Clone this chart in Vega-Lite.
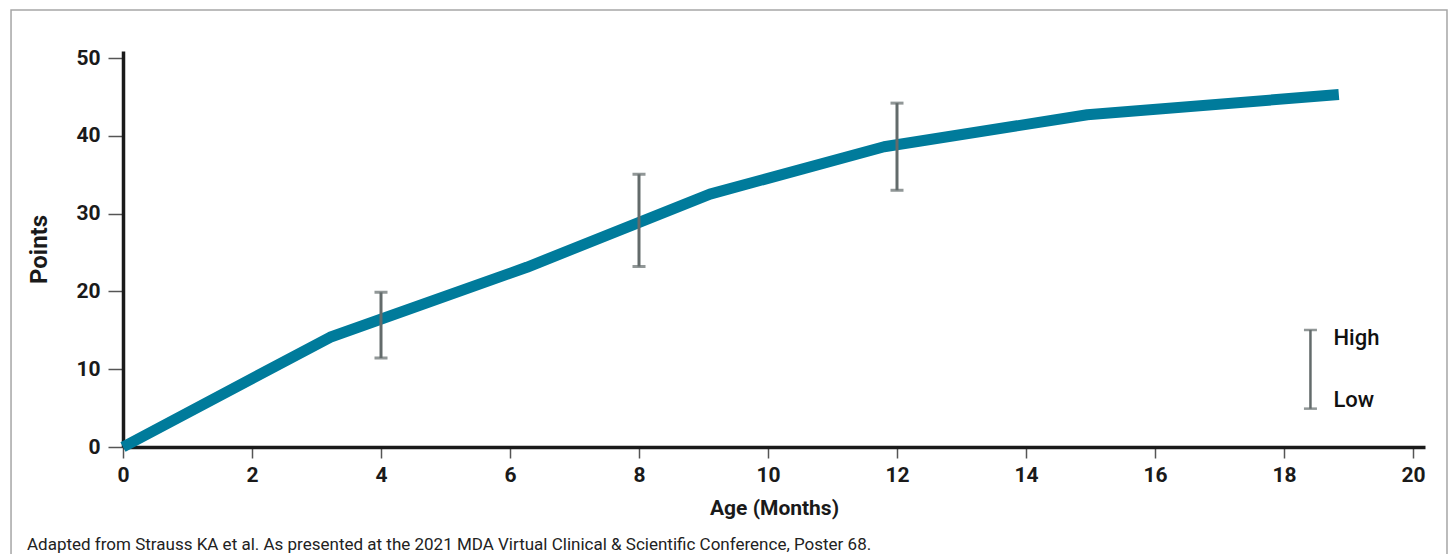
{
  "$schema": "https://vega.github.io/schema/vega-lite/v6.json",
  "autosize": {"type": "none"},
  "padding": {"left": 123, "top": 51, "right": 25, "bottom": 107},
  "width": 1302,
  "height": 396,
  "background": "white",
  "config": {
    "view": {"stroke": null},
    "font": "Roboto",
    "axis": {"grid": false}
  },
  "title": {
    "text": "Adapted from Strauss KA et al. As presented at the 2021 MDA Virtual Clinical & Scientific Conference, Poster 68.",
    "orient": "bottom",
    "anchor": "start",
    "frame": "group",
    "dx": -96,
    "offset": -20,
    "font": "Roboto",
    "fontSize": 17,
    "fontWeight": "normal",
    "color": "#222222"
  },
  "datasets": {
    "frame": [{}],
    "line": [
      {"age": 0, "points": 0},
      {"age": 3.21, "points": 14.1},
      {"age": 6.26, "points": 23.1},
      {"age": 9.1, "points": 32.5},
      {"age": 11.8, "points": 38.6},
      {"age": 14.95, "points": 42.7},
      {"age": 18.85, "points": 45.3}
    ],
    "bars": [
      {"age": 4, "low": 11.44, "high": 19.88},
      {"age": 8, "low": 23.2, "high": 35.05},
      {"age": 12, "low": 33.0, "high": 44.2}
    ],
    "legend": [
      {"age": 18.41, "low": 4.93, "high": 15.04}
    ],
    "legendText": [
      {"age": 18.41, "value": 14.0, "label": "High"},
      {"age": 18.41, "value": 6.0, "label": "Low"}
    ]
  },
  "layer": [
    {
      "data": {"name": "frame"},
      "mark": {"type": "rect", "fill": "transparent", "stroke": "#a6a6a6", "strokeWidth": 1.5, "clip": false},
      "encoding": {
        "x": {"datum": -1.736, "type": "quantitative", "scale": {"domain": [0, 20.186], "nice": false, "zero": false}, "title": "Age (Months)"},
        "x2": {"datum": 20.527},
        "y": {"datum": 56.17, "type": "quantitative", "scale": {"domain": [0, 50.9], "nice": false, "zero": false}, "title": "Points"},
        "y2": {"datum": -14.01}
      }
    },
    {
      "data": {"name": "line"},
      "mark": {"type": "line", "color": "#007B9B", "strokeWidth": 11, "strokeCap": "butt", "strokeJoin": "round"},
      "encoding": {
        "x": {
          "field": "age", "type": "quantitative",
          "scale": {"domain": [0, 20.186], "nice": false, "zero": false},
          "axis": {
            "title": "Age (Months)",
            "values": [0, 2, 4, 6, 8, 10, 12, 14, 16, 18, 20],
            "format": "d",
            "domainColor": "#1a1a1a", "domainWidth": 3.5,
            "tickColor": "#555555", "tickWidth": 1.5, "tickSize": 11,
            "labelFont": "Roboto", "labelFontSize": 21, "labelFontWeight": "bold", "labelColor": "#1a1a1a",
            "labelPadding": 6, "labelFlush": false,
            "titleFont": "Roboto", "titleFontSize": 21, "titleFontWeight": "bold", "titleColor": "#1a1a1a",
            "titlePadding": 12
          }
        },
        "y": {
          "field": "points", "type": "quantitative",
          "scale": {"domain": [0, 50.9], "nice": false, "zero": false},
          "axis": {
            "title": "Points",
            "values": [0, 10, 20, 30, 40, 50],
            "format": "d",
            "domainColor": "#1a1a1a", "domainWidth": 3.5,
            "tickColor": "#555555", "tickWidth": 1.5, "tickSize": 15,
            "labelFont": "Roboto", "labelFontSize": 21, "labelFontWeight": "bold", "labelColor": "#1a1a1a",
            "labelPadding": 8, "labelFlush": false,
            "titleFont": "Roboto", "titleFontSize": 24, "titleFontWeight": "bold", "titleColor": "#1a1a1a",
            "titlePadding": 24
          }
        }
      }
    },
    {
      "data": {"name": "bars"},
      "mark": {"type": "errorbar", "ticks": {"size": 13, "thickness": 3, "color": "#636b6b"}, "rule": {"strokeWidth": 3, "color": "#636b6b"}},
      "encoding": {
        "x": {"field": "age", "type": "quantitative", "title": "Age (Months)"},
        "y": {"field": "low", "type": "quantitative", "title": "Points"},
        "y2": {"field": "high"}
      }
    },
    {
      "data": {"name": "legend"},
      "mark": {"type": "errorbar", "ticks": {"size": 13, "thickness": 2.5, "color": "#636b6b"}, "rule": {"strokeWidth": 2.5, "color": "#636b6b"}},
      "encoding": {
        "x": {"field": "age", "type": "quantitative", "title": "Age (Months)"},
        "y": {"field": "low", "type": "quantitative", "title": "Points"},
        "y2": {"field": "high"}
      }
    },
    {
      "data": {"name": "legendText"},
      "mark": {"type": "text", "align": "left", "baseline": "middle", "dx": 23, "font": "Roboto", "fontSize": 22, "fontWeight": 500, "color": "#111111"},
      "encoding": {
        "x": {"field": "age", "type": "quantitative", "title": "Age (Months)"},
        "y": {"field": "value", "type": "quantitative", "title": "Points"},
        "text": {"field": "label"}
      }
    }
  ]
}
